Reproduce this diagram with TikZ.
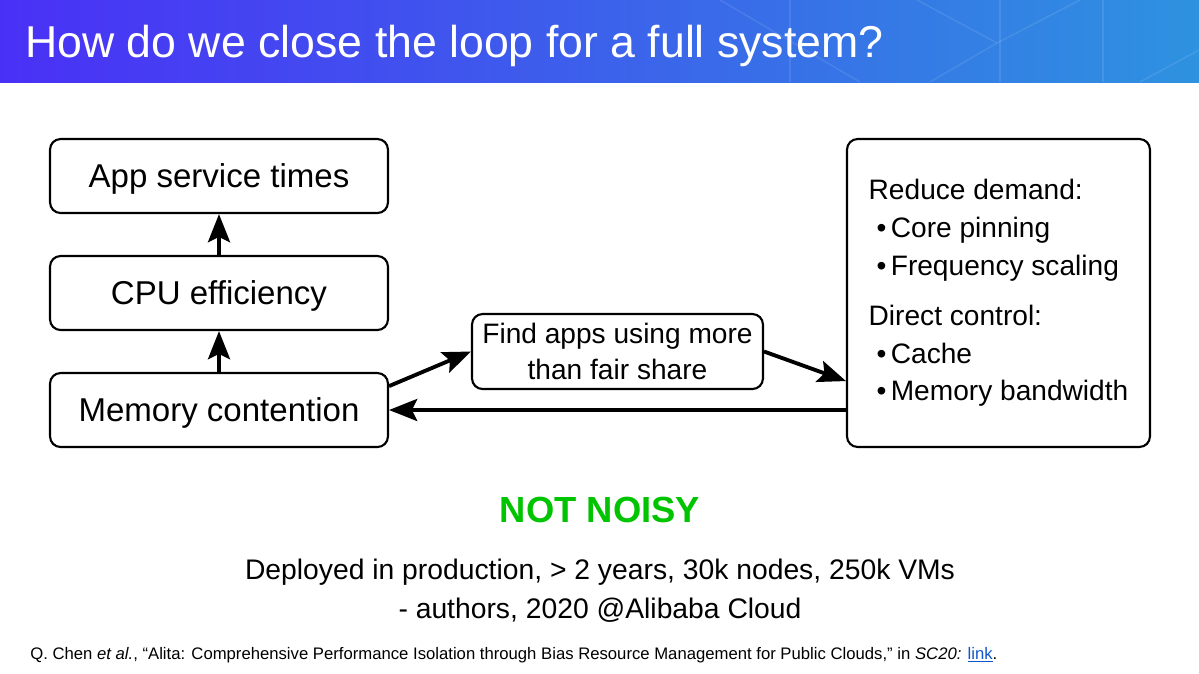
\documentclass[tikz,border=0pt]{standalone}
\usepackage{fontspec}
\setmainfont{Liberation Sans}
\usetikzlibrary{arrows.meta, positioning}
\definecolor{hdrleft}{RGB}{74,48,246}
\definecolor{hdrmid}{RGB}{58,108,242}
\definecolor{hdrright}{RGB}{46,146,224}
\definecolor{quietgreen}{RGB}{0,196,0}
\definecolor{linkblue}{RGB}{17,85,204}

\begin{document}
\begin{tikzpicture}[x=0.02cm, y=-0.02cm,
    box/.style={draw=black, line width=1.2pt, rounded corners=6pt, align=center, inner sep=0pt},
    flow/.style={-{Stealth[length=16pt, width=12.5pt, inset=3pt]}, line width=2.2pt}]
  \useasboundingbox (0,0) rectangle (1199,673);
  % Header band
  \shade[left color=hdrleft, middle color=hdrmid, right color=hdrright] (0,0) rectangle (1199,82);
  \draw[white, opacity=0.1, line width=0.8pt] (790,0) -- (790,82);
  \draw[white, opacity=0.1, line width=0.8pt] (1000,0) -- (1000,82);
  \draw[white, opacity=0.1, line width=0.8pt] (1103,0) -- (1103,82);
  \draw[white, opacity=0.1, line width=0.8pt] (917,0) -- (997,43) -- (1080,0);
  \draw[white, opacity=0.1, line width=0.8pt] (997,43) -- (930,82);
  \draw[white, opacity=0.1, line width=0.8pt] (1140,82) -- (1199,50);
  \draw[white, opacity=0.1, line width=0.8pt] (720,0) -- (860,82);
  \node[anchor=base west, text=white, font=\fontsize{25.4}{30}\selectfont, inner sep=0pt] (title) at (25,57) {How do we close the loop for a full system?};

  % Left column
  \node[box, minimum width=6.76cm, minimum height=1.48cm, text depth=0pt, font=\fontsize{18.8}{22}\selectfont] (app) at (219,176) {App service times};
  \node[box, minimum width=6.76cm, minimum height=1.48cm, text depth=0pt, font=\fontsize{18.8}{22}\selectfont] (cpu) at (219,293) {CPU efficiency};
  \node[box, minimum width=6.76cm, minimum height=1.48cm, text depth=0pt, font=\fontsize{18.8}{22}\selectfont] (mem) at (219,410) {Memory contention};
  % Middle step
  \node[box, minimum width=5.82cm, minimum height=1.5cm, font=\fontsize{16}{20}\selectfont] (find) at (617.5,351.5) {Find apps using more\\than fair share};
  % Controls
  \node[box, minimum width=6.06cm, minimum height=6.16cm, align=left, font=\fontsize{16}{21.5}\selectfont] (ctrl) at (998.5,293) {Reduce demand:\\
    \hspace*{4.5pt}\textbullet\hspace{2.5pt}Core pinning\\
    \hspace*{4.5pt}\textbullet\hspace{2.5pt}Frequency scaling\\[7pt]
    Direct control:\\
    \hspace*{4.5pt}\textbullet\hspace{2.5pt}Cache\\
    \hspace*{4.5pt}\textbullet\hspace{2.5pt}Memory bandwidth};

  % Arrows
  \draw[flow] (cpu.north) -- (app.south);
  \draw[flow] (mem.north) -- (cpu.south);
  \draw[flow] (mem.8) -- (find.west);
  \draw[flow] (find.east) -- (ctrl.210);
  \draw[flow] (ctrl.west |- mem.east) -- (mem.east);

  % Bottom text
  \node[text=quietgreen, font=\bfseries\fontsize{20.7}{24}\selectfont] (quiet) at (600,510) {NOT NOISY};
  \node[font=\fontsize{16.1}{19}\selectfont] (deploy) at (600,572) {Deployed in production, > 2 years, 30k nodes, 250k VMs};
  \node[font=\fontsize{16.1}{19}\selectfont] (authors) at (600,610) {- authors, 2020 @Alibaba Cloud};
  \node[anchor=west, inner sep=0pt, font=\fontsize{9.5}{11}\selectfont] (cite) at (30,655) {Q. Chen \emph{et al.}, “Alita: Comprehensive Performance Isolation through Bias Resource Management for Public Clouds,” in \emph{SC20:} \textcolor{linkblue}{\underline{link}}.};
\end{tikzpicture}
\end{document}
